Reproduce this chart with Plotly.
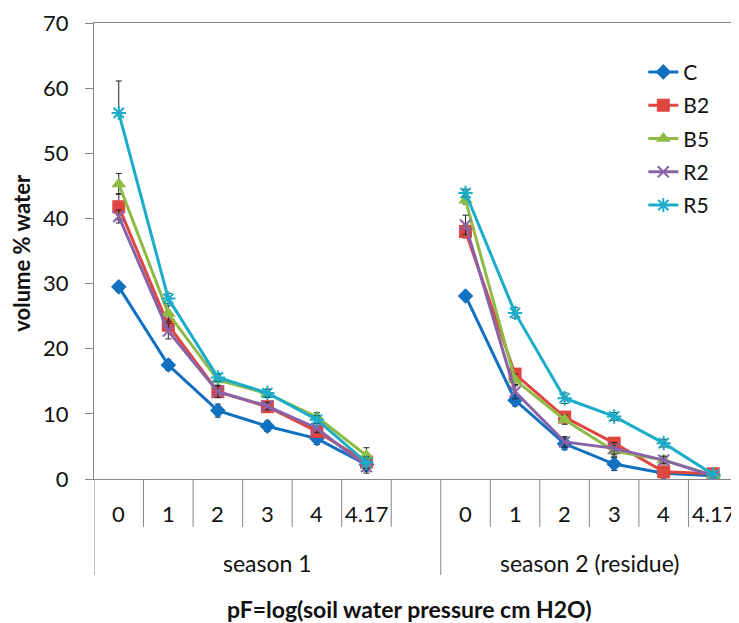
import plotly.graph_objects as go

# ---- data ----
pf_labels = ["0", "1", "2", "3", "4", "4.17"]
season_labels = ["season 1", "season 2 (residue)"]
series_names = ["C", "B2", "B5", "R2", "R5"]

C_s1 = [29.5, 17.5, 10.5, 8.1, 6.2, 2.2]
C_s2 = [28.1, 12.1, 5.4, 2.3, 0.9, 0.5]
B2_s1 = [41.8, 23.6, 13.4, 11.1, 7.3, 2.6]
B2_s2 = [38.0, 16.1, 9.5, 5.5, 1.1, 0.8]
B5_s1 = [45.3, 25.4, 15.2, 13.1, 9.5, 3.6]
B5_s2 = [42.8, 15.2, 9.1, 4.3, 2.9, 0.6]
R2_s1 = [40.3, 22.7, 13.4, 11.2, 7.8, 1.9]
R2_s2 = [39.0, 13.4, 5.7, 4.7, 2.9, 0.5]
R5_s1 = [56.2, 27.7, 15.6, 13.2, 9.1, 2.5]
R5_s2 = [43.9, 25.5, 12.4, 9.6, 5.5, 0.7]

C_err_s1 = [0.7, 0.8, 1.0, 0.8, 0.9, 1.0]
C_err_s2 = [0.6, 0.9, 0.9, 1.0, 0.5, 0.3]
B2_err_s1 = [2.0, 1.0, 0.8, 0.8, 0.8, 1.0]
B2_err_s2 = [1.0, 0.8, 0.7, 0.7, 0.4, 0.3]
B5_err_s1 = [1.6, 1.2, 0.8, 0.6, 0.7, 1.2]
B5_err_s2 = [0.6, 0.9, 0.7, 0.8, 0.5, 0.3]
R2_err_s1 = [1.0, 1.2, 0.9, 0.6, 0.7, 1.0]
R2_err_s2 = [1.5, 1.1, 0.8, 0.9, 0.6, 0.3]
R5_err_s1 = [4.9, 0.8, 0.6, 0.6, 0.6, 0.9]
R5_err_s2 = [0.6, 0.8, 0.8, 0.6, 0.6, 0.3]

colors = ["#1270C0", "#E04640", "#8DBB45", "#8863A8", "#1BACCA"]
symbols = ["diamond", "square", "triangle-up", "x-thin", "asterisk"]
sizes = [12, 13, 13, 11, 12]

vals = [(C_s1, C_s2), (B2_s1, B2_s2), (B5_s1, B5_s2), (R2_s1, R2_s2), (R5_s1, R5_s2)]
errs = [(C_err_s1, C_err_s2), (B2_err_s1, B2_err_s2), (B5_err_s1, B5_err_s2),
        (R2_err_s1, R2_err_s2), (R5_err_s1, R5_err_s2)]

n = len(pf_labels)
gap = 1
x_s1 = list(range(n))
x_s2 = list(range(n + gap, 2 * n + gap))
x_all = x_s1 + [n] + x_s2
total = 2 * n + gap

fig = go.Figure()
for i, name in enumerate(series_names):
    s1, s2 = vals[i]
    e1, e2 = errs[i]
    y = list(s1) + [None] + list(s2)
    ep = list(e1) + [None] + list(e2)
    em = list(ep)
    if name == "R5":
        em[0] = 0.3
    open_sym = symbols[i] in ("x-thin", "asterisk")
    marker = dict(symbol=symbols[i], size=sizes[i], color=colors[i])
    if open_sym:
        marker["line"] = dict(color=colors[i], width=2)
    fig.add_trace(go.Scatter(
        x=x_all, y=y, name=name, mode="lines+markers",
        line=dict(color=colors[i], width=3),
        marker=marker, connectgaps=False,
        legendgroup=name,
        error_y=dict(type="data", array=ep, arrayminus=em, symmetric=False,
                     color="#222222", thickness=1, width=3),
    ))

axis_col = "#868686"
shapes = []
short_bottom = -0.105
long_bottom = -0.2105
div_mid = n - 1 + gap + 0.5
# short ticks between categories
for k in range(total - 1):
    b = k + 0.5
    if abs(b - div_mid) < 1e-9:
        continue
    shapes.append(dict(type="line", xref="x", yref="paper", x0=b, x1=b, y0=0, y1=short_bottom,
                       line=dict(color=axis_col, width=1)))
# long dividers
for b in [-0.5, div_mid, total - 0.5]:
    shapes.append(dict(type="line", xref="x", yref="paper", x0=b, x1=b, y0=0, y1=long_bottom,
                       line=dict(color=axis_col, width=1)))

font_family = "Lato, 'Noto Sans', sans-serif"
annotations = []
for xs in (x_s1, x_s2):
    for xi, lab in zip(xs, pf_labels):
        annotations.append(dict(x=xi, y=-0.0746, xref="x", yref="paper", text=lab,
                                showarrow=False, font=dict(size=22, color="#111"),
                                xanchor="center", yanchor="middle"))
annotations.append(dict(x=(-0.5 + div_mid) / 2, y=-0.184, xref="x", yref="paper",
                        text=season_labels[0], showarrow=False, font=dict(size=23, color="#111"),
                        xanchor="center", yanchor="middle"))
annotations.append(dict(x=(div_mid + total - 0.5) / 2, y=-0.184, xref="x", yref="paper",
                        text=season_labels[1], showarrow=False, font=dict(size=23, color="#111"),
                        xanchor="center", yanchor="middle"))
annotations.append(dict(x=0.49, y=-0.285, xref="paper", yref="paper",
                        text="<b>pF=log(soil water pressure cm H2O)</b>", showarrow=False,
                        font=dict(size=23, color="#111"), xanchor="center", yanchor="middle"))
annotations.append(dict(x=-0.112, y=0.496, xref="paper", yref="paper",
                        text="<b>volume % water</b>", showarrow=False, textangle=-90,
                        font=dict(size=22, color="#111"), xanchor="center", yanchor="middle"))

# page body has an 8px margin, so the figure is sized/placed to compensate
fig.update_layout(
    width=731, height=615,
    margin=dict(l=86, r=1, t=15, b=144),
    paper_bgcolor="white", plot_bgcolor="white",
    font=dict(family=font_family, size=22, color="#111"),
    showlegend=True,
    legend=dict(x=0.853, y=0.937, xanchor="left", yanchor="top",
                font=dict(size=21, color="#111"), bgcolor="rgba(0,0,0,0)",
                traceorder="grouped", tracegroupgap=3, itemwidth=30),
    shapes=shapes, annotations=annotations,
    xaxis=dict(range=[-0.5, total - 0.5], showticklabels=False, ticks="",
               showgrid=False, zeroline=False, showline=True, linecolor=axis_col,
               linewidth=1, mirror=True, fixedrange=True),
    yaxis=dict(range=[0, 70], dtick=10, ticks="outside", ticklen=8, tickcolor=axis_col,
               showgrid=False, zeroline=False, showline=True, linecolor=axis_col,
               linewidth=1, mirror=True, tickfont=dict(size=22, color="#111"),
               ticklabelstandoff=12),
)

fig.write_html("out.html")
